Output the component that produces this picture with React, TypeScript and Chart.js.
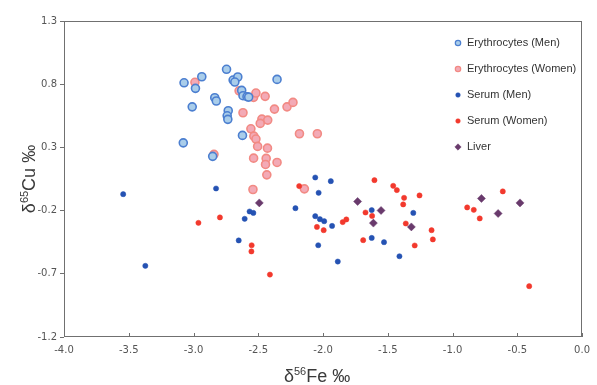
import React, { useEffect, useRef } from "react";
import { Chart, registerables } from "chart.js";

Chart.register(...registerables);

// ---- Data ----
const xTicks = [-4.0, -3.5, -3.0, -2.5, -2.0, -1.5, -1.0, -0.5, 0.0];
const yTicks = [-1.2, -0.7, -0.2, 0.3, 0.8, 1.3];

const seriesNames = ["Erythrocytes (Men)", "Erythrocytes (Women)", "Serum (Men)", "Serum (Women)", "Liver"];

const erythMenX = [-3.073, -2.936, -2.985, -2.745, -2.694, -2.658, -2.681, -2.836, -2.824, -3.010, -2.732, -2.740, -2.735, -2.628, -2.618, -2.587, -2.574, -2.355, -3.079, -2.622, -2.852];
const erythMenY = [0.811, 0.859, 0.767, 0.918, 0.833, 0.857, 0.817, 0.693, 0.667, 0.621, 0.590, 0.550, 0.522, 0.751, 0.709, 0.701, 0.698, 0.838, 0.336, 0.395, 0.229];

const erythWomenX = [-2.989, -2.648, -2.536, -2.518, -2.447, -2.375, -2.278, -2.232, -2.618, -2.472, -2.427, -2.485, -2.557, -2.534, -2.518, -2.505, -2.429, -2.536, -2.439, -2.444, -2.355, -2.434, -2.182, -2.044, -2.541, -2.144, -2.842];
const erythWomenY = [0.815, 0.748, 0.696, 0.730, 0.704, 0.603, 0.621, 0.656, 0.574, 0.524, 0.516, 0.490, 0.447, 0.389, 0.366, 0.308, 0.294, 0.215, 0.213, 0.165, 0.181, 0.083, 0.408, 0.408, -0.033, -0.028, 0.245];

const serumMenX = [-3.543, -2.826, -2.567, -2.538, -2.605, -2.651, -3.372, -2.060, -1.940, -2.034, -2.213, -2.060, -2.024, -1.991, -1.930, -2.037, -1.886, -1.624, -1.624, -1.529, -1.303, -1.410];
const serumMenY = [-0.070, -0.025, -0.207, -0.218, -0.265, -0.436, -0.637, 0.062, 0.033, -0.059, -0.181, -0.244, -0.268, -0.284, -0.321, -0.474, -0.603, -0.196, -0.416, -0.450, -0.218, -0.561];

const serumWomenX = [-2.962, -2.796, -2.551, -2.553, -2.410, -2.184, -2.047, -1.995, -1.848, -1.820, -1.603, -1.458, -1.430, -1.374, -1.381, -1.255, -1.672, -1.621, -1.361, -1.162, -1.152, -1.292, -1.690, -0.887, -0.836, -0.790, -0.612, -0.408];
const serumWomenY = [-0.297, -0.254, -0.474, -0.523, -0.706, -0.006, -0.329, -0.355, -0.291, -0.270, 0.041, -0.004, -0.038, -0.099, -0.151, -0.080, -0.215, -0.242, -0.302, -0.355, -0.428, -0.476, -0.434, -0.175, -0.194, -0.262, -0.048, -0.798];

const liverX = [-2.492, -1.733, -1.552, -1.611, -1.318, -0.777, -0.648, -0.479];
const liverY = [-0.139, -0.128, -0.199, -0.299, -0.329, -0.104, -0.223, -0.139];

const zip = (xs: number[], ys: number[]) => xs.map((x, i) => ({ x, y: ys[i] }));

const styles = [
  { bg: "#a9cdea", border: "#4c7fd0", radius: 4, bw: 1.6, shape: "circle", order: 3 },
  { bg: "#f3aab6", border: "#f28a84", radius: 4, bw: 1.6, shape: "circle", order: 4 },
  { bg: "#2552b3", border: "#2552b3", radius: 2.6, bw: 0.5, shape: "circle", order: 2 },
  { bg: "#f2392d", border: "#f2392d", radius: 2.6, bw: 0.5, shape: "circle", order: 1 },
  { bg: "#693a6c", border: "#693a6c", radius: 4, bw: 0.5, shape: "rectRot", order: 0 },
];

const seriesData = [
  zip(erythMenX, erythMenY),
  zip(erythWomenX, erythWomenY),
  zip(serumMenX, serumMenY),
  zip(serumWomenX, serumWomenY),
  zip(liverX, liverY),
];

const TITLE_FONT = "'Liberation Sans', Arial, sans-serif";
const TICK_FONT = "'DejaVu Sans', Verdana, sans-serif";

function drawRich(ctx: CanvasRenderingContext2D, parts: { t: string; size: number; rise: number }[]) {
  let total = 0;
  for (const p of parts) {
    ctx.font = `${p.size}px ${TITLE_FONT}`;
    total += ctx.measureText(p.t).width;
  }
  let x = -total / 2;
  ctx.textAlign = "left";
  ctx.textBaseline = "alphabetic";
  for (const p of parts) {
    ctx.font = `${p.size}px ${TITLE_FONT}`;
    ctx.fillText(p.t, x, -p.rise);
    x += ctx.measureText(p.t).width;
  }
}

const decorPlugin = {
  id: "decor",
  afterDraw(chart: any) {
    const ctx: CanvasRenderingContext2D = chart.ctx;
    const a = chart.chartArea;
    const xs = chart.scales.x;
    ctx.save();
    // plot frame
    ctx.strokeStyle = "#707070";
    ctx.lineWidth = 1;
    ctx.strokeRect(Math.round(a.left) + 0.5, Math.round(a.top) + 0.5, Math.round(a.right - a.left) - 1, Math.round(a.bottom - a.top) - 1);
    // inner x ticks
    for (const v of xTicks) {
      const px = Math.round(xs.getPixelForValue(v)) + 0.5;
      ctx.beginPath();
      ctx.moveTo(px, a.bottom);
      ctx.lineTo(px, a.bottom - 4);
      ctx.stroke();
    }
    // legend
    const lx = 458;
    seriesNames.forEach((name, i) => {
      const cy = 43 + i * 26;
      const s = styles[i];
      ctx.fillStyle = s.bg;
      ctx.strokeStyle = s.border;
      ctx.lineWidth = s.shape === "circle" && s.bw > 1 ? 1.2 : 0.5;
      ctx.beginPath();
      if (s.shape === "circle") {
        ctx.arc(lx, cy, s.bw > 1 ? 2.7 : 2.3, 0, Math.PI * 2);
      } else {
        const r = 3.2;
        ctx.moveTo(lx, cy - r);
        ctx.lineTo(lx + r, cy);
        ctx.lineTo(lx, cy + r);
        ctx.lineTo(lx - r, cy);
        ctx.closePath();
      }
      ctx.fill();
      ctx.stroke();
      ctx.fillStyle = "#333333";
      ctx.font = `11px ${TITLE_FONT}`;
      ctx.textAlign = "left";
      ctx.textBaseline = "middle";
      ctx.fillText(name, 467, cy);
    });
    // axis titles
    ctx.fillStyle = "#3a3a3a";
    ctx.save();
    ctx.translate((a.left + a.right) / 2 - 6, 382);
    drawRich(ctx, [
      { t: "δ", size: 18, rise: 0 },
      { t: "56", size: 11, rise: 7 },
      { t: "Fe ‰", size: 18, rise: 0 },
    ]);
    ctx.restore();
    ctx.save();
    ctx.translate(35, (a.top + a.bottom) / 2);
    ctx.rotate(-Math.PI / 2);
    drawRich(ctx, [
      { t: "δ", size: 18, rise: 0 },
      { t: "65", size: 11, rise: 7 },
      { t: "Cu ‰", size: 18, rise: 0 },
    ]);
    ctx.restore();
    ctx.restore();
  },
};

export default function App() {
  const ref = useRef<HTMLCanvasElement | null>(null);
  useEffect(() => {
    if (!ref.current) return;
    const chart = new Chart(ref.current, {
      type: "scatter",
      data: {
        datasets: seriesNames.map((name, i) => ({
          label: name,
          data: seriesData[i],
          backgroundColor: styles[i].bg,
          borderColor: styles[i].border,
          borderWidth: styles[i].bw,
          pointRadius: styles[i].radius,
          pointHoverRadius: styles[i].radius,
          pointStyle: styles[i].shape as any,
          order: styles[i].order,
        })),
      },
      options: {
        responsive: false,
        animation: false,
        devicePixelRatio: 1,
        layout: { padding: { left: 0, right: 10, top: 21, bottom: 0 } },
        plugins: { legend: { display: false }, tooltip: { enabled: false }, title: { display: false } },
        events: [],
        scales: {
          x: {
            type: "linear",
            min: -4,
            max: 0,
            afterBuildTicks: (s: any) => {
              s.ticks = xTicks.map((v) => ({ value: v }));
            },
            afterFit: (s: any) => {
              s.height = 48;
            },
            grid: { display: false, drawTicks: false },
            border: { display: false },
            ticks: {
              padding: 7,
              color: "#555555",
              font: { family: TICK_FONT, size: 10 },
              maxRotation: 0,
              autoSkip: false,
              callback: (v: any) => Number(v).toFixed(1),
            },
          },
          y: {
            type: "linear",
            min: -1.2,
            max: 1.3,
            afterBuildTicks: (s: any) => {
              s.ticks = yTicks.map((v) => ({ value: v }));
            },
            afterFit: (s: any) => {
              s.width = 64;
            },
            grid: { display: true, drawOnChartArea: false, drawTicks: true, tickLength: 4, color: "#707070" },
            border: { display: false },
            ticks: {
              padding: 3,
              color: "#555555",
              font: { family: TICK_FONT, size: 10 },
              autoSkip: false,
              callback: (v: any) => Number(v).toFixed(1),
            },
          },
        },
      },
      plugins: [decorPlugin],
    });
    return () => chart.destroy();
  }, []);
  return (
    <div style={{ position: "absolute", left: 0, top: 0, width: 597, height: 385, background: "#ffffff" }}>
      <canvas ref={ref} width={597} height={385} style={{ display: "block" }} />
    </div>
  );
}
